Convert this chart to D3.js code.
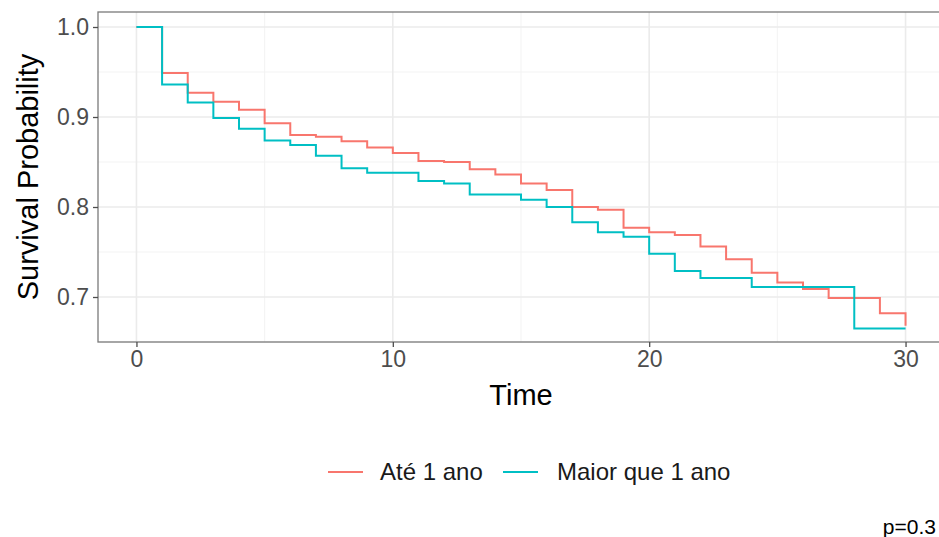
<!DOCTYPE html>
<html>
<head>
<meta charset="utf-8">
<script src="https://cdn.jsdelivr.net/npm/d3@7"></script>
<style>
  body { margin: 0; background: #fff; }
  text { font-family: "Liberation Sans", Arial, sans-serif; }
</style>
</head>
<body>
<div id="container"></div>
<script>
let w = 939;
let h = 537;

// survival curves, one value per time step (step-after)
let times = [0,1,2,3,4,5,6,7,8,9,10,11,12,13,14,15,16,17,18,19,20,21,22,23,24,25,26,27,28,29,30];
let ate1ano = [1.0,0.949,0.927,0.917,0.908,0.893,0.880,0.878,0.873,0.866,0.860,0.851,0.850,0.842,0.836,0.826,0.819,0.800,0.797,0.777,0.772,0.769,0.756,0.742,0.727,0.716,0.709,0.699,0.699,0.682,0.668];
let maior1ano = [1.0,0.936,0.916,0.899,0.887,0.874,0.869,0.857,0.843,0.838,0.838,0.829,0.826,0.814,0.814,0.808,0.800,0.783,0.772,0.767,0.748,0.729,0.721,0.721,0.711,0.711,0.711,0.711,0.665,0.665,0.665];

let seriesNames = ["Até 1 ano", "Maior que 1 ano"];
let seriesColors = ["#F8766D", "#00BFC4"];

let xTicks = [0, 10, 20, 30];
let xMinor = [5, 15, 25];
let yTicks = [0.7, 0.8, 0.9, 1.0];
let yMinor = [0.65, 0.75, 0.85, 0.95];

let viz = d3.select("#container")
  .append("svg")
    .attr("width", w)
    .attr("height", h)
    .style("background-color", "white");

let panel = {left: 98, top: 12, right: 944, bottom: 342};

let xScale = d3.scaleLinear().domain([-1.5, 31.5]).range([panel.left, panel.right]);
let yScale = d3.scaleLinear().domain([0.65, 1.01667]).range([panel.bottom, panel.top]);

// grid
let grid = viz.append("g").attr("class", "grid");
grid.selectAll(".xminor").data(xMinor).enter().append("line")
    .attr("x1", d => xScale(d)).attr("x2", d => xScale(d))
    .attr("y1", panel.top).attr("y2", panel.bottom)
    .attr("stroke", "#F2F2F2").attr("stroke-width", 0.9);
grid.selectAll(".yminor").data(yMinor).enter().append("line")
    .attr("y1", d => yScale(d)).attr("y2", d => yScale(d))
    .attr("x1", panel.left).attr("x2", panel.right)
    .attr("stroke", "#F2F2F2").attr("stroke-width", 0.9);
grid.selectAll(".xmajor").data(xTicks).enter().append("line")
    .attr("x1", d => xScale(d)).attr("x2", d => xScale(d))
    .attr("y1", panel.top).attr("y2", panel.bottom)
    .attr("stroke", "#EBEBEB").attr("stroke-width", 1.6);
grid.selectAll(".ymajor").data(yTicks).enter().append("line")
    .attr("y1", d => yScale(d)).attr("y2", d => yScale(d))
    .attr("x1", panel.left).attr("x2", panel.right)
    .attr("stroke", "#EBEBEB").attr("stroke-width", 1.6);

// curves
let line = d3.line()
  .x(d => xScale(d[0]))
  .y(d => yScale(d[1]))
  .curve(d3.curveStepAfter);

let allSeries = [ate1ano, maior1ano];
allSeries.forEach(function (vals, i) {
  viz.append("path")
    .datum(times.map((t, j) => [t, vals[j]]))
    .attr("d", line)
    .attr("fill", "none")
    .attr("stroke", seriesColors[i])
    .attr("stroke-width", 2);
});

// panel border
viz.append("rect")
  .attr("x", panel.left).attr("y", panel.top)
  .attr("width", panel.right - panel.left).attr("height", panel.bottom - panel.top)
  .attr("fill", "none").attr("stroke", "#7a7a7a").attr("stroke-width", 1.3);

// axes
let xAxis = d3.axisBottom(xScale).tickValues(xTicks).tickSize(5).tickPadding(4).tickFormat(d3.format("d"));
let xAxisGroup = viz.append("g").attr("class", "xaxis")
  .attr("transform", "translate(0," + panel.bottom + ")")
  .call(xAxis);

let yAxis = d3.axisLeft(yScale).tickValues(yTicks).tickSize(5).tickPadding(4).tickFormat(d3.format(".1f"));
let yAxisGroup = viz.append("g").attr("class", "yaxis")
  .attr("transform", "translate(" + panel.left + ",0)")
  .call(yAxis);

[xAxisGroup, yAxisGroup].forEach(function (g) {
  g.select(".domain").remove();
  g.selectAll(".tick line").attr("stroke", "#4d4d4d").attr("stroke-width", 1.3);
  g.selectAll(".tick text")
    .attr("fill", "#4d4d4d")
    .style("font-size", "23px")
    .style("font-family", "'Liberation Sans', Arial, sans-serif");
});

// axis titles
viz.append("text")
  .attr("x", (panel.left + panel.right) / 2)
  .attr("y", 405)
  .attr("text-anchor", "middle")
  .style("font-size", "29px")
  .text("Time");

viz.append("text")
  .attr("transform", "translate(38," + (panel.top + panel.bottom) / 2 + ") rotate(-90)")
  .attr("text-anchor", "middle")
  .style("font-size", "29px")
  .text("Survival Probability");

// legend
let legendKeys = [328, 503];
let legendText = [380, 557];
let legend = viz.append("g").attr("class", "legend");
seriesNames.forEach(function (name, i) {
  legend.append("line")
    .attr("x1", legendKeys[i]).attr("x2", legendKeys[i] + 35)
    .attr("y1", 472).attr("y2", 472)
    .attr("stroke", seriesColors[i]).attr("stroke-width", 2);
  legend.append("text")
    .attr("x", legendText[i]).attr("y", 480)
    .style("font-size", "24px")
    .attr("fill", "#1a1a1a")
    .text(name);
});

// p value (kept inside the canvas)
viz.append("text")
  .attr("x", 936)
  .attr("y", 534)
  .attr("text-anchor", "end")
  .style("font-size", "21px")
  .text("p=0.3");
</script>
</body>
</html>
